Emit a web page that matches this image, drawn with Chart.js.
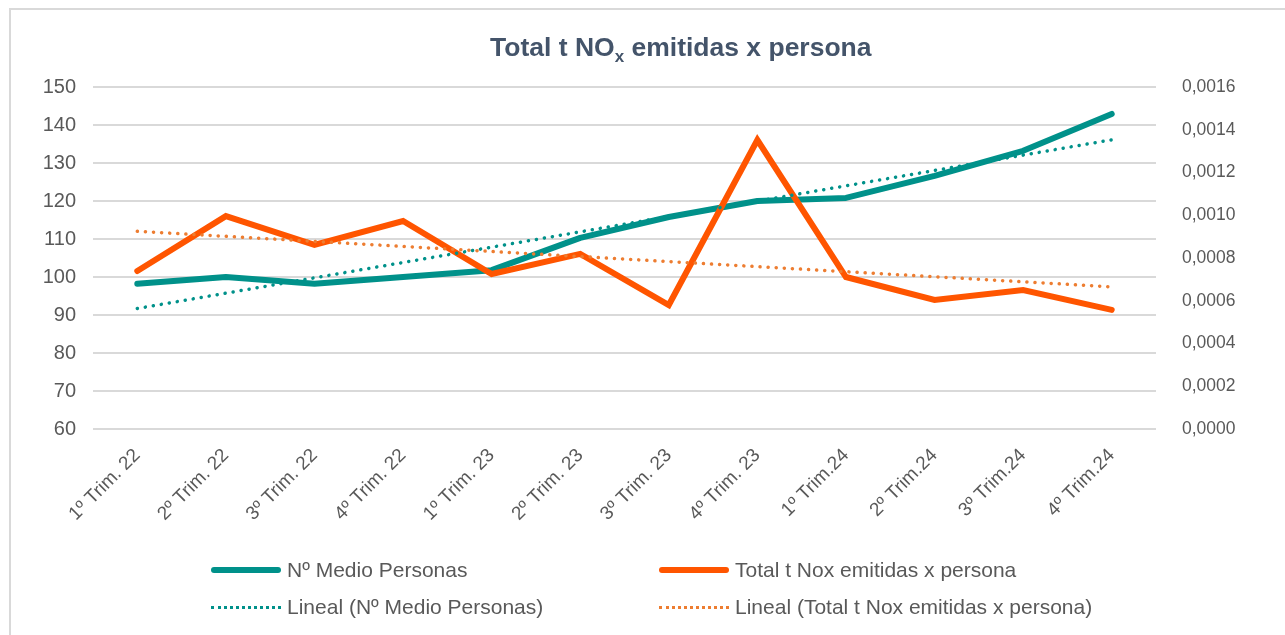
<!DOCTYPE html>
<html>
<head>
<meta charset="utf-8">
<script src="https://cdn.jsdelivr.net/npm/chart.js@4.4.1/dist/chart.umd.min.js"></script>
<style>
  html, body { margin:0; padding:0; background:#fff; }
  #wrap { position:relative; width:1285px; height:635px; overflow:hidden; font-family:"Liberation Sans", Arial, sans-serif; }
  #frame { position:absolute; left:9px; top:8px; width:1300px; height:700px; border-left:2px solid #d9d9d9; border-top:2px solid #d9d9d9; box-sizing:border-box; pointer-events:none; }
  canvas { position:absolute; left:0; top:0; }
  #title { position:absolute; left:490px; top:32px; line-height:30px; font-weight:bold; font-size:26.5px; color:#44546A; white-space:nowrap; }
  #title sub { font-size:17px; vertical-align:-6px; line-height:0; }
  .leg { position:absolute; height:24px; display:flex; align-items:center; font-size:21px; color:#595959; white-space:nowrap; }
  .sw { width:70px; height:0; margin-right:6px; }
</style>
</head>
<body>
<div id="wrap">
  <canvas id="c" width="1285" height="635"></canvas>
  <div id="frame"></div>
  <div id="title">Total t NO<sub>x</sub> emitidas x persona</div>
  <div class="leg" style="left:211px; top:558px;"><span class="sw" style="border-top:6px solid #00918A; border-radius:3px;"></span>Nº Medio Personas</div>
  <div class="leg" style="left:659px; top:558px;"><span class="sw" style="border-top:6px solid #FF5500; border-radius:3px;"></span>Total t Nox emitidas x persona</div>
  <div class="leg" style="left:211px; top:595px;"><span class="sw" style="border-top:3px dotted #00918A;"></span>Lineal (Nº Medio Personas)</div>
  <div class="leg" style="left:659px; top:595px;"><span class="sw" style="border-top:3px dotted #ED7D31;"></span>Lineal (Total t Nox emitidas x persona)</div>
</div>
<script>
const categories = ["1º Trim. 22","2º Trim. 22","3º Trim. 22","4º Trim. 22","1º Trim. 23","2º Trim. 23","3º Trim. 23","4º Trim. 23","1º Trim.24","2º Trim.24","3º Trim.24","4º Trim.24"];
const personas = [98.2, 100, 98.2, 100, 101.8, 110.3, 115.8, 120, 120.8, 126.6, 133.2, 142.9];
const noxPersona = [0.000739, 0.000996, 0.000861, 0.000973, 0.000725, 0.000819, 0.000580, 0.001352, 0.000711, 0.000604, 0.000650, 0.000557];
// trend line endpoints (first and last category)
const personasTrendEnds = [91.7, 136.1];
const noxTrendEnds = [0.000925, 0.000665];
const leftTicks = [60, 150, 10];
const rightTicks = [0, 0.0016, 0.0002];

const TEAL = "#00918A", ORANGE = "#FF5500", ORANGE_T = "#ED7D31";
const last = categories.length - 1;

new Chart(document.getElementById("c"), {
  type: "line",
  data: {
    labels: categories,
    datasets: [
      { label: "Lineal (Nº Medio Personas)", yAxisID: "y",
        data: [{x: categories[0], y: personasTrendEnds[0]}, {x: categories[last], y: personasTrendEnds[1]}],
        borderColor: TEAL, borderWidth: 3.5, borderDash: [0.1, 8], borderCapStyle: "round",
        pointRadius: 0, tension: 0, order: 0 },
      { label: "Lineal (Total t Nox emitidas x persona)", yAxisID: "y2",
        data: [{x: categories[0], y: noxTrendEnds[0]}, {x: categories[last], y: noxTrendEnds[1]}],
        borderColor: ORANGE_T, borderWidth: 3.5, borderDash: [0.1, 8], borderCapStyle: "round",
        pointRadius: 0, tension: 0, order: 1 },
      { label: "Nº Medio Personas", yAxisID: "y", data: personas,
        borderColor: TEAL, borderWidth: 6, borderCapStyle: "round", borderJoinStyle: "round",
        pointRadius: 0, tension: 0, order: 3 },
      { label: "Total t Nox emitidas x persona", yAxisID: "y2", data: noxPersona,
        borderColor: ORANGE, borderWidth: 6, borderCapStyle: "round", borderJoinStyle: "miter",
        pointRadius: 0, tension: 0, order: 2 }
    ]
  },
  options: {
    responsive: false,
    animation: false,
    layout: { padding: { top: 87, left: 0, right: 0, bottom: 0 } },
    plugins: { legend: { display: false }, title: { display: false }, tooltip: { enabled: false } },
    scales: {
      x: {
        offset: true,
        grid: { display: false },
        border: { display: false },
        ticks: { color: "#595959", font: { family: "Liberation Sans", size: 19, lineHeight: 2 }, minRotation: 45, maxRotation: 45, padding: 2, autoSkip: false },
        afterFit: s => { s.height = 635 - 429; }
      },
      y: {
        position: "left",
        min: leftTicks[0], max: leftTicks[1],
        ticks: { stepSize: leftTicks[2], color: "#595959", font: { family: "Liberation Sans", size: 20 }, padding: 17 },
        grid: { color: "#D9D9D9", lineWidth: 2, drawTicks: false },
        border: { display: false },
        afterFit: s => { s.width = 93; }
      },
      y2: {
        position: "right",
        min: rightTicks[0], max: rightTicks[1],
        ticks: { stepSize: rightTicks[2], color: "#595959", font: { family: "Liberation Sans", size: 17.5 }, padding: 26,
                 callback: v => Number(v).toFixed(4).replace(".", ",") },
        grid: { display: false, drawTicks: false },
        border: { display: false },
        afterFit: s => { s.width = 1285 - 1156; }
      }
    }
  }
});
</script>
</body>
</html>
